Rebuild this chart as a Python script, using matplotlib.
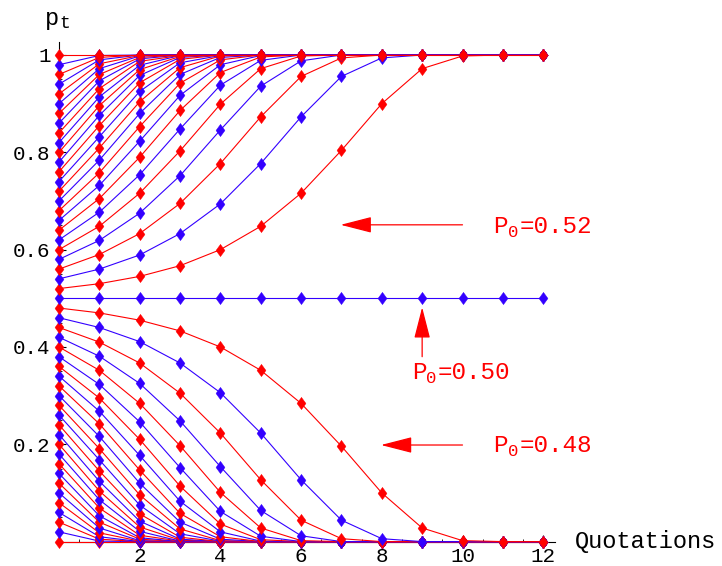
import matplotlib
matplotlib.use("Agg")
import matplotlib.pyplot as plt
from matplotlib.ticker import MultipleLocator

# Number of quotations (time steps)
quotations = list(range(13))

# Share p_t after each quotation, one row per initial share p_0 = 0.00 ... 1.00
trajectories = [
    [0.00, 0.000, 0.000, 0.000, 0.000, 0.000, 0.000, 0.000, 0.000, 0.000, 0.000, 0.000, 0.000],
    [0.02, 0.001, 0.000, 0.000, 0.000, 0.000, 0.000, 0.000, 0.000, 0.000, 0.000, 0.000, 0.000],
    [0.04, 0.005, 0.000, 0.000, 0.000, 0.000, 0.000, 0.000, 0.000, 0.000, 0.000, 0.000, 0.000],
    [0.06, 0.010, 0.000, 0.000, 0.000, 0.000, 0.000, 0.000, 0.000, 0.000, 0.000, 0.000, 0.000],
    [0.08, 0.018, 0.001, 0.000, 0.000, 0.000, 0.000, 0.000, 0.000, 0.000, 0.000, 0.000, 0.000],
    [0.10, 0.028, 0.002, 0.000, 0.000, 0.000, 0.000, 0.000, 0.000, 0.000, 0.000, 0.000, 0.000],
    [0.12, 0.040, 0.005, 0.000, 0.000, 0.000, 0.000, 0.000, 0.000, 0.000, 0.000, 0.000, 0.000],
    [0.14, 0.053, 0.008, 0.000, 0.000, 0.000, 0.000, 0.000, 0.000, 0.000, 0.000, 0.000, 0.000],
    [0.16, 0.069, 0.013, 0.001, 0.000, 0.000, 0.000, 0.000, 0.000, 0.000, 0.000, 0.000, 0.000],
    [0.18, 0.086, 0.021, 0.001, 0.000, 0.000, 0.000, 0.000, 0.000, 0.000, 0.000, 0.000, 0.000],
    [0.20, 0.104, 0.030, 0.003, 0.000, 0.000, 0.000, 0.000, 0.000, 0.000, 0.000, 0.000, 0.000],
    [0.22, 0.124, 0.042, 0.005, 0.000, 0.000, 0.000, 0.000, 0.000, 0.000, 0.000, 0.000, 0.000],
    [0.24, 0.145, 0.057, 0.009, 0.000, 0.000, 0.000, 0.000, 0.000, 0.000, 0.000, 0.000, 0.000],
    [0.26, 0.168, 0.075, 0.016, 0.001, 0.000, 0.000, 0.000, 0.000, 0.000, 0.000, 0.000, 0.000],
    [0.28, 0.191, 0.096, 0.026, 0.002, 0.000, 0.000, 0.000, 0.000, 0.000, 0.000, 0.000, 0.000],
    [0.30, 0.216, 0.120, 0.040, 0.005, 0.000, 0.000, 0.000, 0.000, 0.000, 0.000, 0.000, 0.000],
    [0.32, 0.242, 0.147, 0.058, 0.010, 0.000, 0.000, 0.000, 0.000, 0.000, 0.000, 0.000, 0.000],
    [0.34, 0.268, 0.177, 0.083, 0.020, 0.001, 0.000, 0.000, 0.000, 0.000, 0.000, 0.000, 0.000],
    [0.36, 0.295, 0.210, 0.114, 0.036, 0.004, 0.000, 0.000, 0.000, 0.000, 0.000, 0.000, 0.000],
    [0.38, 0.323, 0.246, 0.152, 0.062, 0.011, 0.000, 0.000, 0.000, 0.000, 0.000, 0.000, 0.000],
    [0.40, 0.352, 0.284, 0.197, 0.101, 0.028, 0.002, 0.000, 0.000, 0.000, 0.000, 0.000, 0.000],
    [0.42, 0.381, 0.325, 0.248, 0.154, 0.064, 0.012, 0.000, 0.000, 0.000, 0.000, 0.000, 0.000],
    [0.44, 0.410, 0.367, 0.305, 0.223, 0.127, 0.044, 0.006, 0.000, 0.000, 0.000, 0.000, 0.000],
    [0.46, 0.440, 0.411, 0.367, 0.306, 0.223, 0.127, 0.044, 0.006, 0.000, 0.000, 0.000, 0.000],
    [0.48, 0.470, 0.455, 0.433, 0.400, 0.352, 0.284, 0.196, 0.100, 0.028, 0.002, 0.000, 0.000],
    [0.50, 0.500, 0.500, 0.500, 0.500, 0.500, 0.500, 0.500, 0.500, 0.500, 0.500, 0.500, 0.500],
    [0.52, 0.530, 0.545, 0.567, 0.600, 0.648, 0.716, 0.804, 0.900, 0.972, 0.998, 1.000, 1.000],
    [0.54, 0.560, 0.589, 0.633, 0.694, 0.777, 0.873, 0.956, 0.994, 1.000, 1.000, 1.000, 1.000],
    [0.56, 0.590, 0.633, 0.695, 0.777, 0.873, 0.956, 0.994, 1.000, 1.000, 1.000, 1.000, 1.000],
    [0.58, 0.619, 0.675, 0.752, 0.846, 0.936, 0.988, 1.000, 1.000, 1.000, 1.000, 1.000, 1.000],
    [0.60, 0.648, 0.716, 0.803, 0.899, 0.972, 0.998, 1.000, 1.000, 1.000, 1.000, 1.000, 1.000],
    [0.62, 0.677, 0.754, 0.848, 0.938, 0.989, 1.000, 1.000, 1.000, 1.000, 1.000, 1.000, 1.000],
    [0.64, 0.705, 0.790, 0.886, 0.964, 0.996, 1.000, 1.000, 1.000, 1.000, 1.000, 1.000, 1.000],
    [0.66, 0.732, 0.823, 0.917, 0.980, 0.999, 1.000, 1.000, 1.000, 1.000, 1.000, 1.000, 1.000],
    [0.68, 0.758, 0.853, 0.942, 0.990, 1.000, 1.000, 1.000, 1.000, 1.000, 1.000, 1.000, 1.000],
    [0.70, 0.784, 0.880, 0.960, 0.995, 1.000, 1.000, 1.000, 1.000, 1.000, 1.000, 1.000, 1.000],
    [0.72, 0.809, 0.904, 0.974, 0.998, 1.000, 1.000, 1.000, 1.000, 1.000, 1.000, 1.000, 1.000],
    [0.74, 0.832, 0.925, 0.984, 0.999, 1.000, 1.000, 1.000, 1.000, 1.000, 1.000, 1.000, 1.000],
    [0.76, 0.855, 0.943, 0.991, 1.000, 1.000, 1.000, 1.000, 1.000, 1.000, 1.000, 1.000, 1.000],
    [0.78, 0.876, 0.958, 0.995, 1.000, 1.000, 1.000, 1.000, 1.000, 1.000, 1.000, 1.000, 1.000],
    [0.80, 0.896, 0.970, 0.997, 1.000, 1.000, 1.000, 1.000, 1.000, 1.000, 1.000, 1.000, 1.000],
    [0.82, 0.914, 0.979, 0.999, 1.000, 1.000, 1.000, 1.000, 1.000, 1.000, 1.000, 1.000, 1.000],
    [0.84, 0.931, 0.987, 0.999, 1.000, 1.000, 1.000, 1.000, 1.000, 1.000, 1.000, 1.000, 1.000],
    [0.86, 0.947, 0.992, 1.000, 1.000, 1.000, 1.000, 1.000, 1.000, 1.000, 1.000, 1.000, 1.000],
    [0.88, 0.960, 0.995, 1.000, 1.000, 1.000, 1.000, 1.000, 1.000, 1.000, 1.000, 1.000, 1.000],
    [0.90, 0.972, 0.998, 1.000, 1.000, 1.000, 1.000, 1.000, 1.000, 1.000, 1.000, 1.000, 1.000],
    [0.92, 0.982, 0.999, 1.000, 1.000, 1.000, 1.000, 1.000, 1.000, 1.000, 1.000, 1.000, 1.000],
    [0.94, 0.990, 1.000, 1.000, 1.000, 1.000, 1.000, 1.000, 1.000, 1.000, 1.000, 1.000, 1.000],
    [0.96, 0.995, 1.000, 1.000, 1.000, 1.000, 1.000, 1.000, 1.000, 1.000, 1.000, 1.000, 1.000],
    [0.98, 0.999, 1.000, 1.000, 1.000, 1.000, 1.000, 1.000, 1.000, 1.000, 1.000, 1.000, 1.000],
    [1.00, 1.000, 1.000, 1.000, 1.000, 1.000, 1.000, 1.000, 1.000, 1.000, 1.000, 1.000, 1.000],
]

x_tick_values = [2, 4, 6, 8, 10, 12]
x_tick_labels = ["2", "4", "6", "8", "10", "12"]
y_tick_values = [0.2, 0.4, 0.6, 0.8, 1.0]
y_tick_labels = ["0.2", "0.4", "0.6", "0.8", "1"]

RED = "#ff0000"
BLUE = "#3300ff"
MONO = "Liberation Mono"

W, H = 722, 566
fig = plt.figure(figsize=(W / 100, H / 100), dpi=100)

XMAX, YMAX = 12.3, 1.027
ax = fig.add_axes([59 / W, (H - 541.6) / H, XMAX * 40.35 / W, YMAX * 486.6 / H])
ax.set_xlim(0, XMAX)
ax.set_ylim(0, YMAX)

diamond = [(0, 1), (0.73, 0), (0, -1), (-0.73, 0), (0, 1)]

for i, row in enumerate(trajectories):
    col = RED if i % 2 == 0 else BLUE
    ax.plot(quotations, row, color=col, lw=0.8, marker=diamond, ms=8.8,
            mec=col, mfc=col, mew=0.3, clip_on=False, zorder=3)

# Axes through the origin
for side in ("top", "right"):
    ax.spines[side].set_visible(False)
ax.spines["left"].set_position(("data", 0))
ax.spines["bottom"].set_position(("data", 0))
for side in ("left", "bottom"):
    ax.spines[side].set_linewidth(0.8)
    ax.spines[side].set_zorder(2)

ax.set_xticks(x_tick_values)
ax.set_xticklabels(x_tick_labels, fontfamily=MONO, fontsize=15)
ax.set_yticks(y_tick_values)
ax.set_yticklabels(y_tick_labels, fontfamily=MONO, fontsize=15)
ax.xaxis.set_minor_locator(MultipleLocator(0.5))
ax.yaxis.set_minor_locator(MultipleLocator(0.05))
ax.tick_params(which="major", direction="in", length=5, width=0.8, pad=4)
ax.tick_params(which="minor", direction="in", length=2.5, width=0.6)
ax.tick_params(axis="y", which="major", pad=6)

# Axis titles
ax.text(12.79, 0.0, "Quotations", fontfamily=MONO, fontsize=17,
        ha="left", va="center", clip_on=False)
ax.text(-0.35, 1.076, "p", fontfamily=MONO, fontsize=17,
        ha="left", va="center", clip_on=False)
ax.annotate("t", xy=(-0.35, 1.076), xytext=(10.5, -4), textcoords="offset points",
            fontfamily=MONO, fontsize=13, ha="left", va="center",
            annotation_clip=False)

arrow_style = dict(arrowstyle="-|>,head_length=1.95,head_width=0.5",
                   color=RED, lw=0.9, shrinkA=0, shrinkB=0)


def p0_label(x, y, value):
    """Write P_0=value in the monospace font, starting at (x, y)."""
    fs, sub = 17.5, 12.5
    adv = 0.6 * fs
    ax.text(x, y, "P", fontfamily=MONO, fontsize=fs, color=RED,
            ha="left", va="center", clip_on=False)
    ax.annotate("0", xy=(x, y), xytext=(adv, -4.5), textcoords="offset points",
                fontfamily=MONO, fontsize=sub, color=RED, ha="left", va="center",
                annotation_clip=False)
    ax.annotate("=" + value, xy=(x, y), xytext=(adv + 0.6 * sub + 1, 0),
                textcoords="offset points", fontfamily=MONO, fontsize=fs,
                color=RED, ha="left", va="center", annotation_clip=False)


ax.annotate("", xy=(6.98, 0.651), xytext=(10.0, 0.651), arrowprops=arrow_style)
p0_label(10.76, 0.648, "0.52")

ax.annotate("", xy=(9.0, 0.4815), xytext=(9.0, 0.38), arrowprops=arrow_style)
p0_label(8.74, 0.347, "0.50")

ax.annotate("", xy=(7.98, 0.1985), xytext=(10.0, 0.1985), arrowprops=arrow_style)
p0_label(10.76, 0.197, "0.48")

fig.savefig("out.png", dpi=100)
